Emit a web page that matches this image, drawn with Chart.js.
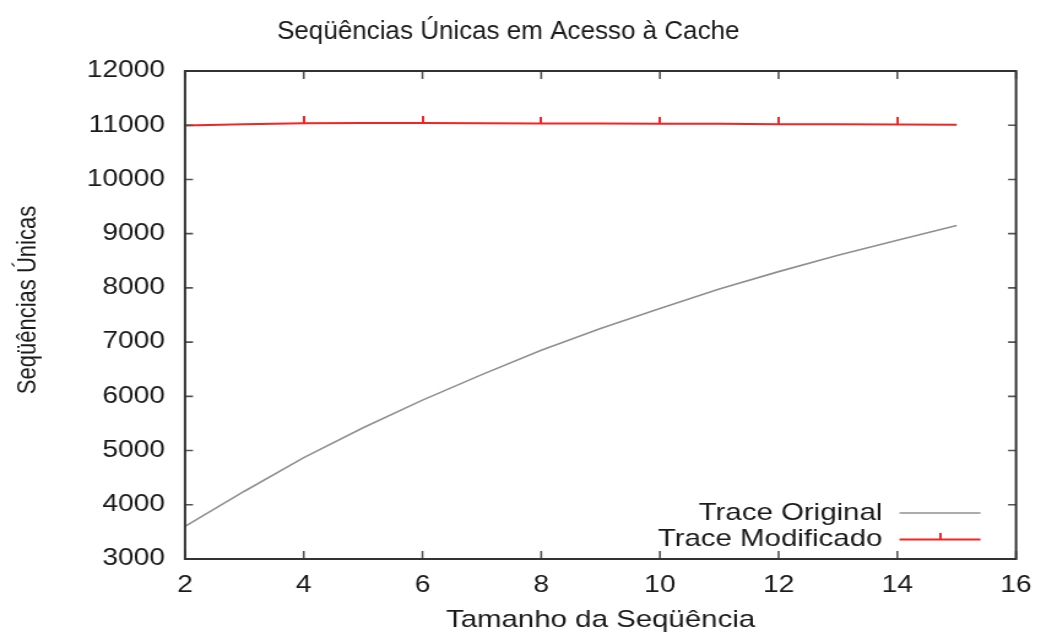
<!DOCTYPE html>
<html>
<head>
<meta charset="utf-8">
<title>Seqüências Únicas em Acesso à Cache</title>
<script src="https://cdn.jsdelivr.net/npm/chart.js@4.4.1/dist/chart.umd.min.js"></script>
<style>
  html, body { margin: 0; padding: 0; background: #ffffff; overflow: hidden; }
  /* The plot is laid out at a narrower width and widened to fill the page */
  #wrap { width: 849px; height: 637px; transform: scaleX(1.2262); transform-origin: 0 0; }
  #chart { display: block; }
</style>
</head>
<body>
<div id="wrap"><canvas id="chart" width="849" height="637"></canvas></div>
<script>
// Sequence length (x) and number of unique sequences for each trace
const seqLengths = [2, 3, 4, 5, 6, 7, 8, 9, 10, 11, 12, 13, 14, 15];
const traceOriginal = [3600, 4250, 4870, 5420, 5930, 6400, 6850, 7250, 7620, 7980, 8300, 8600, 8880, 9150];
const traceModified = [10995, 11020, 11035, 11040, 11040, 11035, 11030, 11030, 11025, 11025, 11020, 11020, 11015, 11010];
const seriesLabels = ['Trace Original', 'Trace Modificado'];
const chartTitle = 'Seqüências Únicas em Acesso à Cache';
const yTitle = 'Seqüências Únicas';
const xTitle = 'Tamanho da Seqüência';

const STRETCH = 1.2262;
const FONT = 'Liberation Sans';
const TEXT = '#1a1a1a';
const GREY = '#909090';
const RED = '#f22424';

// Small upward tick used as the point marker of the modified trace
function makeTickMarker() {
  const c = document.createElement('canvas');
  c.width = 2; c.height = 14;
  const g = c.getContext('2d');
  g.fillStyle = RED;
  g.fillRect(0, 0, 2, 7);
  return c;
}
const tickMarker = makeTickMarker();

// Box frame with inward tick marks on all four sides
const framePlugin = {
  id: 'frame',
  afterDatasetsDraw(chart) {
    const { ctx, chartArea: a, scales: { x, y } } = chart;
    const lenX = 8, lenY = 6.5;
    ctx.save();
    ctx.strokeStyle = '#555';
    ctx.lineWidth = 1.6;
    ctx.beginPath();
    x.ticks.forEach(t => {
      const px = x.getPixelForValue(t.value);
      ctx.moveTo(px, a.bottom); ctx.lineTo(px, a.bottom - lenX);
      ctx.moveTo(px, a.top); ctx.lineTo(px, a.top + lenX);
    });
    y.ticks.forEach(t => {
      const py = y.getPixelForValue(t.value);
      ctx.moveTo(a.left, py); ctx.lineTo(a.left + lenY, py);
      ctx.moveTo(a.right, py); ctx.lineTo(a.right - lenY, py);
    });
    ctx.stroke();
    ctx.strokeStyle = '#333';
    ctx.lineWidth = 2;
    ctx.strokeRect(a.left, a.top, a.width, a.height);
    ctx.restore();
  }
};

// Heading (kept at natural proportions) and the rotated y-axis caption
const captionPlugin = {
  id: 'captions',
  afterDraw(chart) {
    const { ctx } = chart;
    ctx.save();
    ctx.fillStyle = TEXT;
    ctx.textAlign = 'center';
    ctx.textBaseline = 'middle';
    ctx.save();
    ctx.translate(chart.width / 2 - 10, 32);
    ctx.scale(1 / STRETCH, 1);
    ctx.font = '26px "' + FONT + '"';
    ctx.fillText(chartTitle, 0, 0);
    ctx.restore();
    ctx.save();
    ctx.translate(22.8, 300);
    ctx.rotate(-Math.PI / 2);
    ctx.font = '22px "' + FONT + '"';
    ctx.fillText(yTitle, 0, 0);
    ctx.restore();
    ctx.restore();
  }
};

// Key in the lower right: label text followed by a line sample
const keyPlugin = {
  id: 'key',
  afterDatasetsDraw(chart) {
    const { ctx, chartArea: a } = chart;
    const textRight = a.right - 109;
    const sampleL = a.right - 95;
    const sampleR = a.right - 29;
    const rowY = [a.bottom - 46, a.bottom - 19.5];
    ctx.save();
    ctx.font = '24px "' + FONT + '"';
    ctx.textAlign = 'right';
    ctx.textBaseline = 'middle';
    chart.data.datasets.forEach((ds, i) => {
      ctx.fillStyle = TEXT;
      ctx.fillText(ds.label, textRight, rowY[i]);
      ctx.strokeStyle = ds.borderColor;
      ctx.lineWidth = ds.borderWidth;
      ctx.beginPath();
      ctx.moveTo(sampleL, rowY[i]);
      ctx.lineTo(sampleR, rowY[i]);
      ctx.stroke();
      if (ds.keyMarker) {
        ctx.drawImage(ds.keyMarker, (sampleL + sampleR) / 2 - 1, rowY[i] - 7);
      }
    });
    ctx.restore();
  }
};

const plainNumber = v => String(v);

const ctx = document.getElementById('chart').getContext('2d');
new Chart(ctx, {
  type: 'line',
  data: {
    datasets: [
      {
        label: seriesLabels[0],
        data: seqLengths.map((x, i) => ({ x, y: traceOriginal[i] })),
        borderColor: GREY,
        borderWidth: 1.6,
        pointRadius: 0,
        tension: 0,
        fill: false
      },
      {
        label: seriesLabels[1],
        data: seqLengths.map((x, i) => ({ x, y: traceModified[i] })),
        borderColor: RED,
        borderWidth: 2,
        pointStyle: tickMarker,
        keyMarker: tickMarker,
        pointRadius: c => (c.raw && c.raw.x % 2 === 0 && c.raw.x > 2) ? 4 : 0,
        tension: 0,
        fill: false
      }
    ]
  },
  options: {
    responsive: false,
    animation: false,
    events: [],
    layout: { padding: { left: 0, right: 0, top: 71, bottom: 0 } },
    plugins: {
      legend: { display: false },
      tooltip: { enabled: false },
      title: { display: false }
    },
    scales: {
      x: {
        type: 'linear',
        min: 2,
        max: 16,
        ticks: { stepSize: 2, color: TEXT, font: { family: FONT, size: 23 }, padding: 12.6, callback: plainNumber },
        grid: { display: false, drawTicks: false },
        border: { display: false },
        title: {
          display: true,
          text: xTitle,
          color: TEXT,
          font: { family: FONT, size: 24 },
          padding: { top: 0, bottom: 2.6 }
        },
        afterFit: s => { s.height = 78; s.paddingLeft = 0; s.paddingRight = 20.4; }
      },
      y: {
        type: 'linear',
        min: 3000,
        max: 12000,
        ticks: { stepSize: 1000, color: TEXT, font: { family: FONT, size: 23 }, padding: 16.3, callback: plainNumber },
        grid: { display: false, drawTicks: false },
        border: { display: false },
        title: { display: false },
        afterFit: s => { s.width = 150.9; s.paddingTop = 0; s.paddingBottom = 0; }
      }
    }
  },
  plugins: [framePlugin, keyPlugin, captionPlugin]
});
</script>
</body>
</html>
